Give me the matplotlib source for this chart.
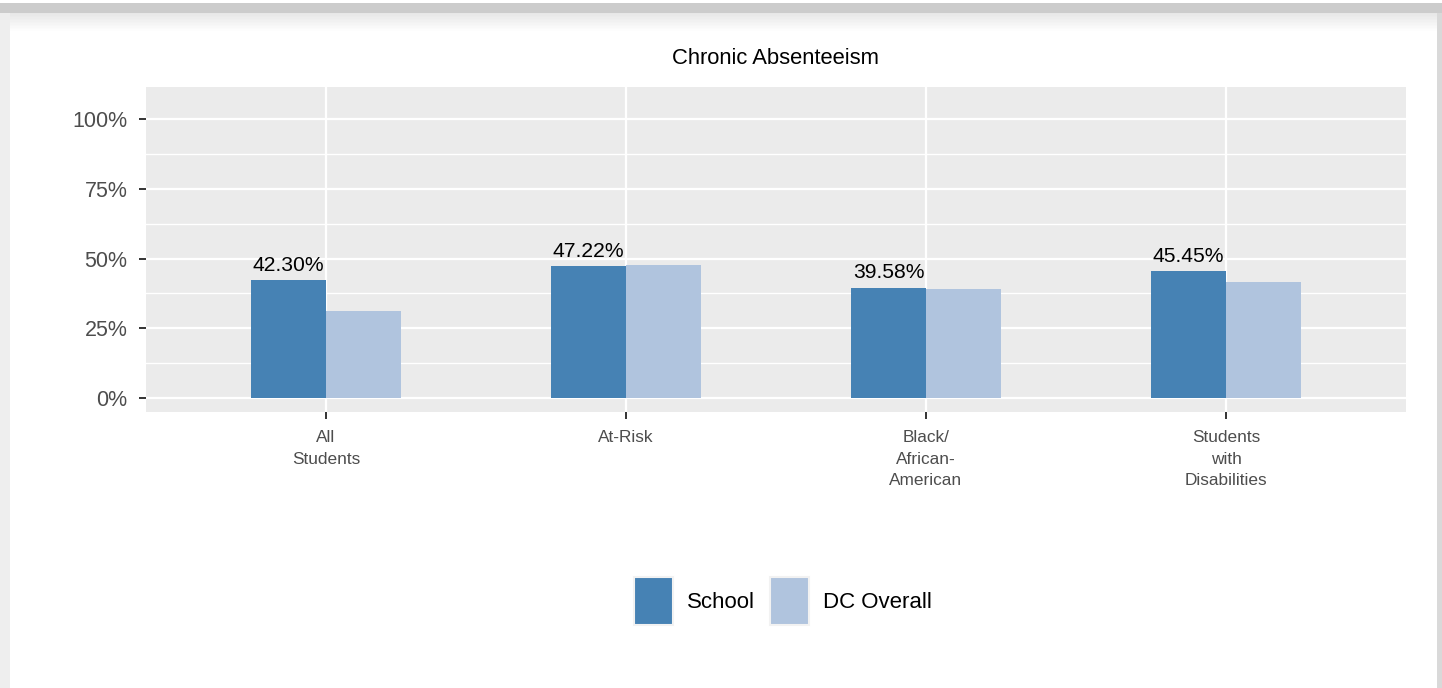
import matplotlib.pyplot as plt
import numpy as np
from matplotlib.patches import Rectangle, Patch

plt.rcParams['font.family'] = ['Liberation Sans', 'DejaVu Sans']

categories = ["All\nStudents", "At-Risk", "Black/\nAfrican-\nAmerican", "Students\nwith\nDisabilities"]
school = [42.30, 47.22, 39.58, 45.45]
dc_overall = [31.2, 47.8, 39.1, 41.7]
series_names = ["School", "DC Overall"]
colors = ["#4682B4", "#B0C4DE"]

W, H = 1442, 688
fig = plt.figure(figsize=(W / 100, H / 100), dpi=100)
fig.patch.set_facecolor("white")

# page chrome: top shadow band, side strips
fig.patches.append(Rectangle((0, 1 - 13 / H), 1, 10 / H, transform=fig.transFigure,
                             facecolor="#CCCCCC", edgecolor="none", zorder=0))
for i in range(12):
    a = 1 - i / 12
    fig.patches.append(Rectangle((10 / W, 1 - (14 + i * 1.5) / H), 1 - 14 / W, 1.5 / H,
                                 transform=fig.transFigure, facecolor="#E2E2E2",
                                 alpha=a * 0.8, edgecolor="none", zorder=0))
fig.patches.append(Rectangle((0, 0), 10 / W, 1 - 13 / H, transform=fig.transFigure,
                             facecolor="#EEEEEE", edgecolor="none", zorder=0))
fig.patches.append(Rectangle((1 - 5 / W, 0), 5 / W, 1 - 13 / H, transform=fig.transFigure,
                             facecolor="#D9D9D9", edgecolor="none", zorder=0))

# panel
ax = fig.add_axes([146 / W, 1 - 412 / H, 1260 / W, 325 / H])
ax.set_facecolor("#EBEBEB")
for s in ax.spines.values():
    s.set_visible(False)

x = np.arange(1, len(categories) + 1)
bw = 0.25
ax.bar(x - bw / 2, school, width=bw, color=colors[0], zorder=3)
ax.bar(x + bw / 2, dc_overall, width=bw, color=colors[1], zorder=3)

for xi, v in zip(x, school):
    ax.text(xi - bw / 2, v + 1.9, f"{v:.2f}%", ha="center", va="bottom",
            fontsize=15.2, color="black", zorder=4)

ax.set_xlim(0.4, 4.6)
ax.set_ylim(-5, 111.5)
ax.set_yticks([0, 25, 50, 75, 100])
ax.set_yticklabels(["0%", "25%", "50%", "75%", "100%"])
ax.set_yticks([12.5, 37.5, 62.5, 87.5], minor=True)
ax.set_xticks(x)
ax.set_xticklabels(categories, linespacing=1.55)

ax.grid(True, which="major", color="white", linewidth=1.6, zorder=1)
ax.grid(True, which="minor", axis="y", color="white", linewidth=1.0, zorder=1)
ax.tick_params(axis="y", which="major", length=5, width=1.4, color="#333333",
               labelsize=15.5, labelcolor="#4D4D4D", pad=8.5)
ax.tick_params(axis="x", which="major", length=5, width=1.4, color="#333333",
               labelsize=12.4, labelcolor="#4D4D4D", pad=8)
ax.tick_params(which="minor", length=0)

fig.text(776 / W, 1 - 58 / H, "Chronic Absenteeism", ha="center", va="center",
         fontsize=15.8, color="black")

handles = [Patch(facecolor=c, edgecolor="#F2F2F2", linewidth=1.5) for c in colors]
fig.legend(handles, series_names, loc="center", bbox_to_anchor=(783 / W, 1 - 601 / H),
           ncol=2, frameon=False, fontsize=16, handlelength=1.76, handleheight=2.88,
           handletextpad=0.65, columnspacing=0.65)

fig.savefig("out.png", dpi=100)
